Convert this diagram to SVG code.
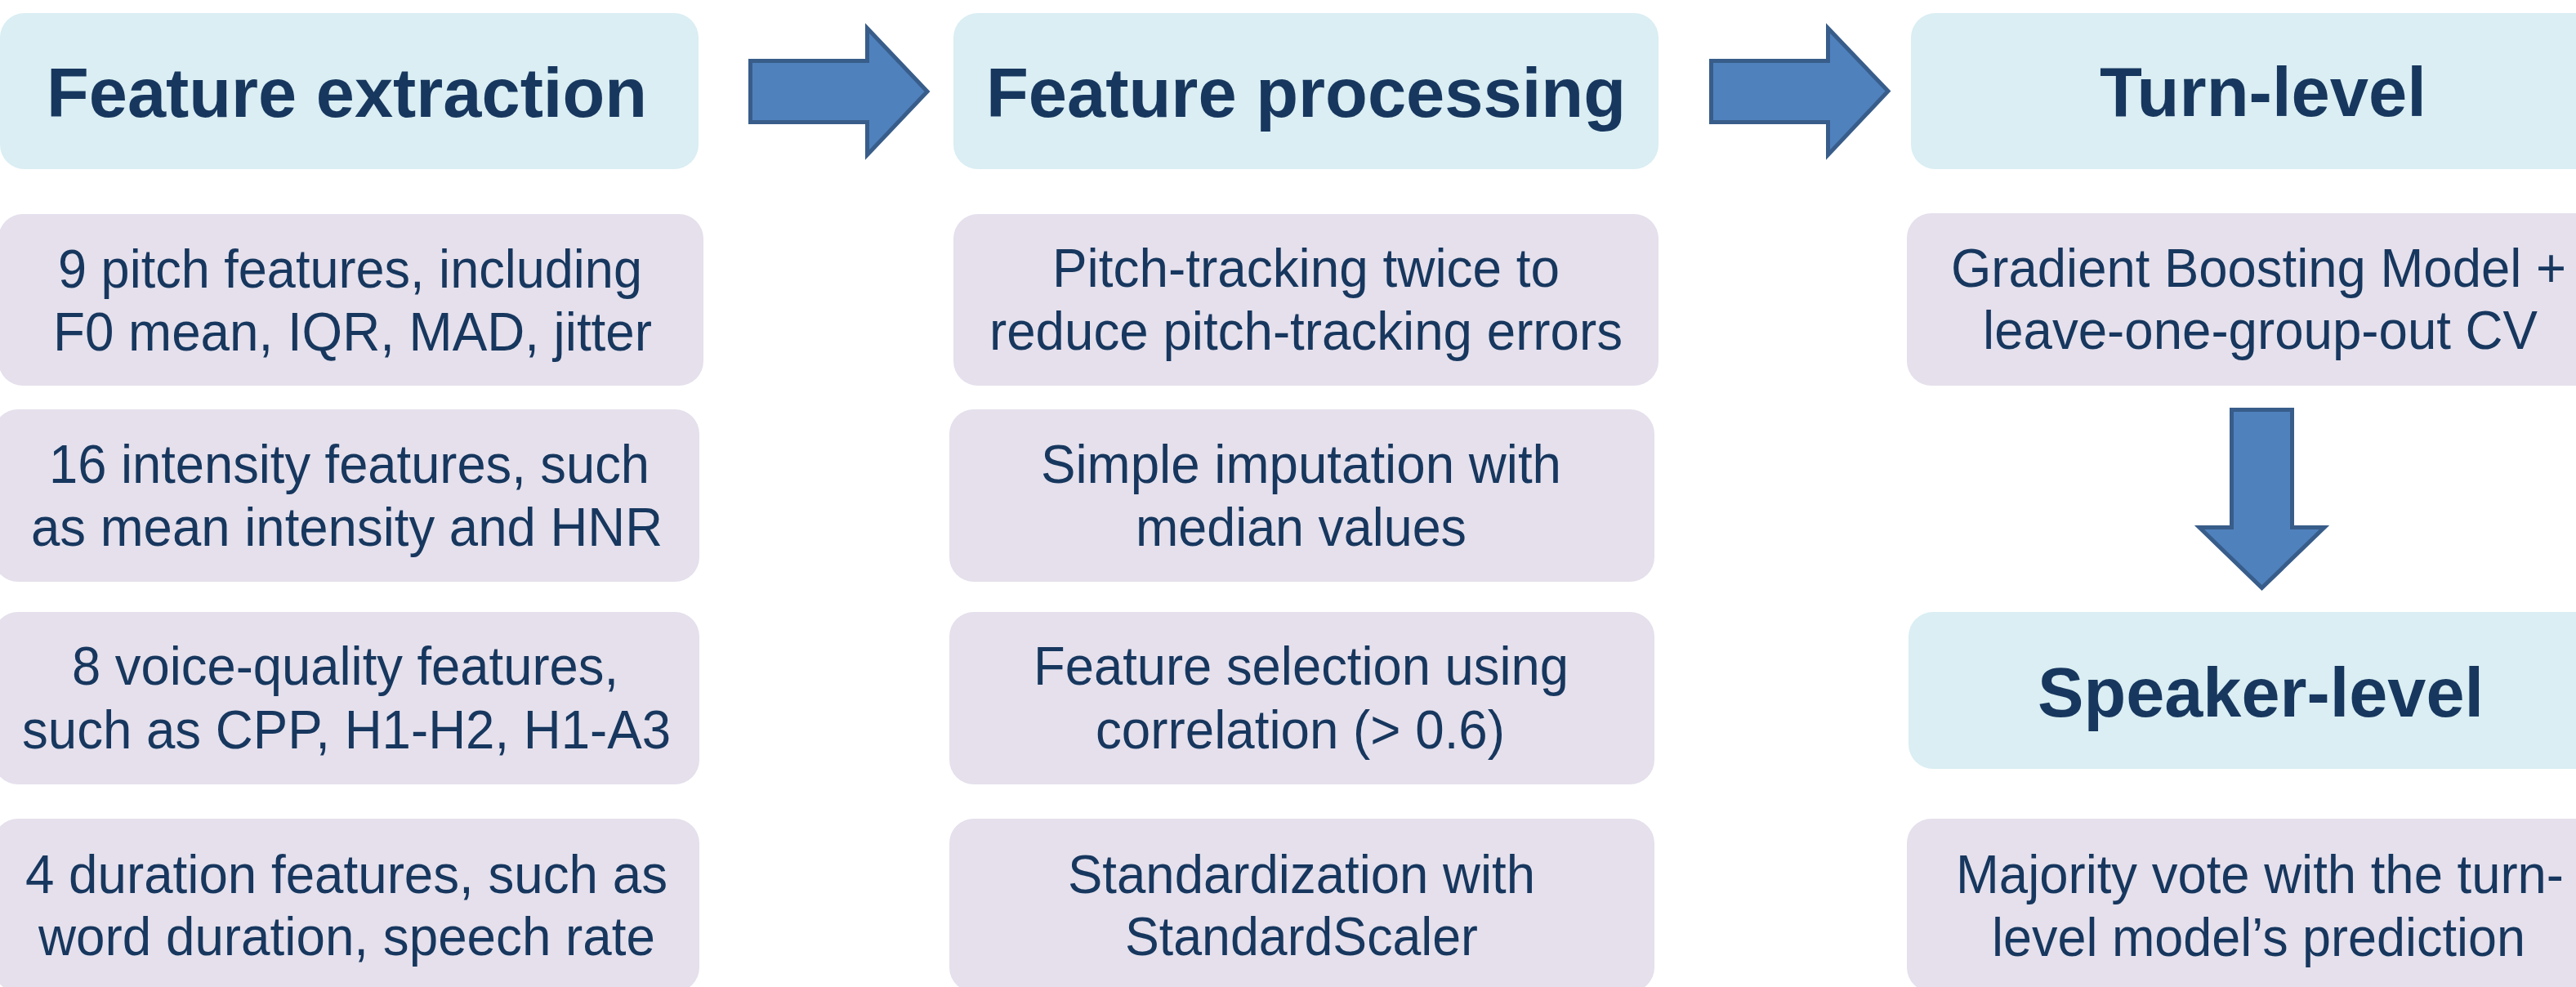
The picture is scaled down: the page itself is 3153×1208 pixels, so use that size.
<svg xmlns="http://www.w3.org/2000/svg" width="3153" height="1208" viewBox="0 0 3153 1208">
  <style>
    .head { fill: #daeef3; }
    .item { fill: #e5e0ec; }
    text { font-family: "Liberation Sans", Arial, sans-serif; fill: #17375e; }
    .ht { font-size: 86px; font-weight: bold; }
    .bt { font-size: 66px; }
    .arrow { fill: #4f81bd; stroke: #385d8a; stroke-width: 5; stroke-linejoin: miter; }
  </style>
  <rect width="3153" height="1208" fill="#ffffff"/>

  <!-- Column 1: feature extraction -->
  <g id="feature-extraction">
    <rect class="head" x="0" y="16" width="855" height="191" rx="30" ry="30"/>
    <text class="ht" x="57" y="143" textLength="735" lengthAdjust="spacingAndGlyphs">Feature extraction</text>
  </g>
  <g id="pitch-features">
    <rect class="item" x="-2" y="262" width="863" height="210" rx="30" ry="30"/>
    <text class="bt" x="71" y="352" textLength="715" lengthAdjust="spacingAndGlyphs">9 pitch features, including</text>
    <text class="bt" x="65" y="429" textLength="733" lengthAdjust="spacingAndGlyphs">F0 mean, IQR, MAD, jitter</text>
  </g>
  <g id="intensity-features">
    <rect class="item" x="-8" y="501" width="864" height="211" rx="30" ry="30"/>
    <text class="bt" x="60" y="591" textLength="735" lengthAdjust="spacingAndGlyphs">16 intensity features, such</text>
    <text class="bt" x="38" y="668" textLength="773" lengthAdjust="spacingAndGlyphs">as mean intensity and HNR</text>
  </g>
  <g id="voice-quality-features">
    <rect class="item" x="-8" y="749" width="864" height="211" rx="30" ry="30"/>
    <text class="bt" x="88" y="838" textLength="669" lengthAdjust="spacingAndGlyphs">8 voice-quality features,</text>
    <text class="bt" x="27" y="916" textLength="794" lengthAdjust="spacingAndGlyphs">such as CPP, H1-H2, H1-A3</text>
  </g>
  <g id="duration-features">
    <rect class="item" x="-8" y="1002" width="864" height="212" rx="30" ry="30"/>
    <text class="bt" x="31" y="1093" textLength="786" lengthAdjust="spacingAndGlyphs">4 duration features, such as</text>
    <text class="bt" x="47" y="1169" textLength="755" lengthAdjust="spacingAndGlyphs">word duration, speech rate</text>
  </g>

  <!-- Column 2: feature processing -->
  <g id="feature-processing">
    <rect class="head" x="1167" y="16" width="863" height="191" rx="30" ry="30"/>
    <text class="ht" x="1207" y="143" textLength="783" lengthAdjust="spacingAndGlyphs">Feature processing</text>
  </g>
  <g id="pitch-tracking">
    <rect class="item" x="1167" y="262" width="863" height="210" rx="30" ry="30"/>
    <text class="bt" x="1288" y="351" textLength="621" lengthAdjust="spacingAndGlyphs">Pitch-tracking twice to</text>
    <text class="bt" x="1211" y="428" textLength="775" lengthAdjust="spacingAndGlyphs">reduce pitch-tracking errors</text>
  </g>
  <g id="imputation">
    <rect class="item" x="1162" y="501" width="863" height="211" rx="30" ry="30"/>
    <text class="bt" x="1274" y="591" textLength="637" lengthAdjust="spacingAndGlyphs">Simple imputation with</text>
    <text class="bt" x="1390" y="668" textLength="405" lengthAdjust="spacingAndGlyphs">median values</text>
  </g>
  <g id="feature-selection">
    <rect class="item" x="1162" y="749" width="863" height="211" rx="30" ry="30"/>
    <text class="bt" x="1265" y="838" textLength="655" lengthAdjust="spacingAndGlyphs">Feature selection using</text>
    <text class="bt" x="1341" y="916" textLength="501" lengthAdjust="spacingAndGlyphs">correlation (&gt; 0.6)</text>
  </g>
  <g id="standardization">
    <rect class="item" x="1162" y="1002" width="863" height="212" rx="30" ry="30"/>
    <text class="bt" x="1307" y="1093" textLength="572" lengthAdjust="spacingAndGlyphs">Standardization with</text>
    <text class="bt" x="1377" y="1169" textLength="432" lengthAdjust="spacingAndGlyphs">StandardScaler</text>
  </g>

  <!-- Column 3: modelling levels -->
  <g id="turn-level">
    <rect class="head" x="2339" y="16" width="862" height="191" rx="30" ry="30"/>
    <text class="ht" x="2570" y="142" textLength="400" lengthAdjust="spacingAndGlyphs">Turn-level</text>
  </g>
  <g id="gradient-boosting">
    <rect class="item" x="2334" y="261" width="862" height="211" rx="30" ry="30"/>
    <text class="bt" x="2388" y="351" textLength="753" lengthAdjust="spacingAndGlyphs">Gradient Boosting Model +</text>
    <text class="bt" x="2427" y="427" textLength="679" lengthAdjust="spacingAndGlyphs">leave-one-group-out CV</text>
  </g>
  <g id="speaker-level">
    <rect class="head" x="2336" y="749" width="862" height="192" rx="30" ry="30"/>
    <text class="ht" x="2494" y="877" textLength="546" lengthAdjust="spacingAndGlyphs">Speaker-level</text>
  </g>
  <g id="majority-vote">
    <rect class="item" x="2334" y="1002" width="862" height="212" rx="30" ry="30"/>
    <text class="bt" x="2394" y="1093" textLength="744" lengthAdjust="spacingAndGlyphs">Majority vote with the turn-</text>
    <text class="bt" x="2438" y="1170" textLength="653" lengthAdjust="spacingAndGlyphs">level model’s prediction</text>
  </g>

  <!-- Block arrows between stages -->
  <g id="connectors">
    <path class="arrow" d="M918.5,74.5 H1061.5 V34.5 L1135,112 L1061.5,189.5 V149.5 H918.5 Z"/>
    <path class="arrow" d="M2094.5,74.5 H2237.5 V34.5 L2311,111.5 L2237.5,189.5 V149.5 H2094.5 Z"/>
    <path class="arrow" d="M2731.5,501.5 H2805.5 V645.5 H2845 L2768.5,719.5 L2692,645.5 H2731.5 Z"/>
  </g>
</svg>
